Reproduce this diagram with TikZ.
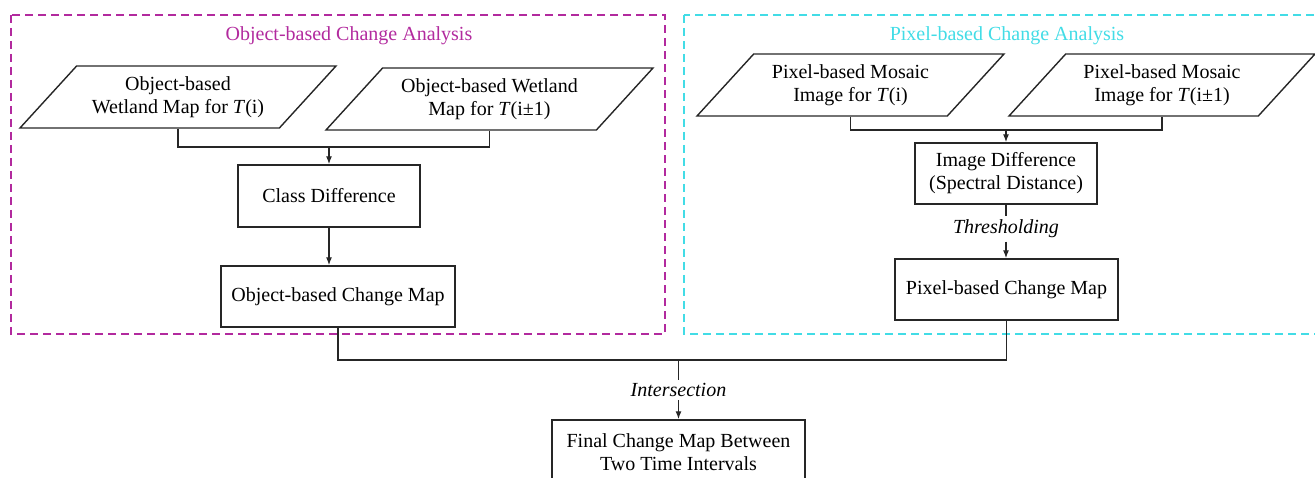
\documentclass[tikz,border=0pt]{standalone}
\usepackage{fontspec}
\setmainfont{Liberation Serif}
\usetikzlibrary{arrows.meta,shapes.geometric}
\definecolor{objpink}{RGB}{178,42,158}
\definecolor{pixcyan}{RGB}{66,220,230}
\tikzset{
  stepbox/.style={draw=black!85, line width=1.4pt, align=center, inner sep=2pt},
  inputbox/.style={trapezium, trapezium left angle=36, trapezium right angle=144,
    trapezium stretches body, draw=black!85, line width=1.4pt, align=center,
    minimum width=316pt, minimum height=62pt, inner sep=0pt},
  link/.style={draw=black!85, line width=1.3pt},
  arrowlink/.style={link, -{Latex[length=8pt,width=6pt]}},
  groupframe/.style={line width=2pt, dash pattern=on 8pt off 5pt}
}
\begin{document}
\begin{tikzpicture}[x=1pt, y=-1pt, font=\fontsize{20}{23}\selectfont]
        \useasboundingbox (0,0) rectangle (1315,478);
        %\draw [help lines] (0,0) grid[step=50] (1315,478);
        \draw [groupframe, objpink] (11,15) rectangle (665,334);
        \draw [groupframe, pixcyan] (684,15) rectangle (1330,334);
        \node [objpink] (objtitle) at (349,36) {Object-based Change Analysis};
        \node [pixcyan] (pixtitle) at (1007,36) {Pixel-based Change Analysis};

        % object-based side
        \node [inputbox] (objin1) at (178,97) {Object-based\\Wetland Map for \textit{T}(i)};
        \node [inputbox, minimum width=327pt] (objin2) at (489.5,99) {Object-based Wetland\\Map for \textit{T}(i±1)};
        \node [stepbox, minimum width=182pt, minimum height=62pt] (classdiff) at (329,196) {Class Difference};
        \node [stepbox, minimum width=234pt, minimum height=61pt] (objmap) at (338,296.5) {Object-based Change Map};
        \coordinate (objjoin) at (329,147);
        \draw [link] (objin1.south) |- (objjoin) -| (objin2.south);
        \draw [arrowlink] (objjoin) -- (classdiff.north);
        \draw [arrowlink] (classdiff.south) -- (classdiff.south |- objmap.north);

        % pixel-based side
        \node [inputbox, minimum width=307pt] (pixin1) at (850.5,85) {Pixel-based Mosaic\\Image for \textit{T}(i)};
        \node [inputbox, minimum width=306pt] (pixin2) at (1162,85) {Pixel-based Mosaic\\Image for \textit{T}(i±1)};
        \node [stepbox, minimum width=182pt, minimum height=61pt] (imgdiff) at (1006,173.5) {Image Difference\\(Spectral Distance)};
        \node [stepbox, minimum width=223pt, minimum height=61pt] (pixmap) at (1006.5,289.5) {Pixel-based Change Map};
        \node (thresh) at (1006,229) {\textit{Thresholding}};
        \coordinate (pixjoin) at (1006,130);
        \draw [link] (pixin1.south) |- (pixjoin) -| (pixin2.south);
        \draw [arrowlink] (pixjoin) -- (imgdiff.north);
        \draw [link] (imgdiff.south) -- (thresh.north);
        \draw [arrowlink] (thresh.south) -- (thresh.south |- pixmap.north);

        % both maps together
        \node [stepbox, minimum width=253pt, minimum height=64pt] (finalmap) at (678.5,452) {Final Change Map Between\\Two Time Intervals};
        \node (intersect) at (678.5,390) {\textit{Intersection}};
        \coordinate (mapjoin) at (678.5,360);
        \draw [link] (objmap.south) |- (mapjoin) -| (pixmap.south);
        \draw [link] (mapjoin) -- (intersect.north);
        \draw [arrowlink] (intersect.south) -- (finalmap.north);
    \end{tikzpicture}
\end{document}
